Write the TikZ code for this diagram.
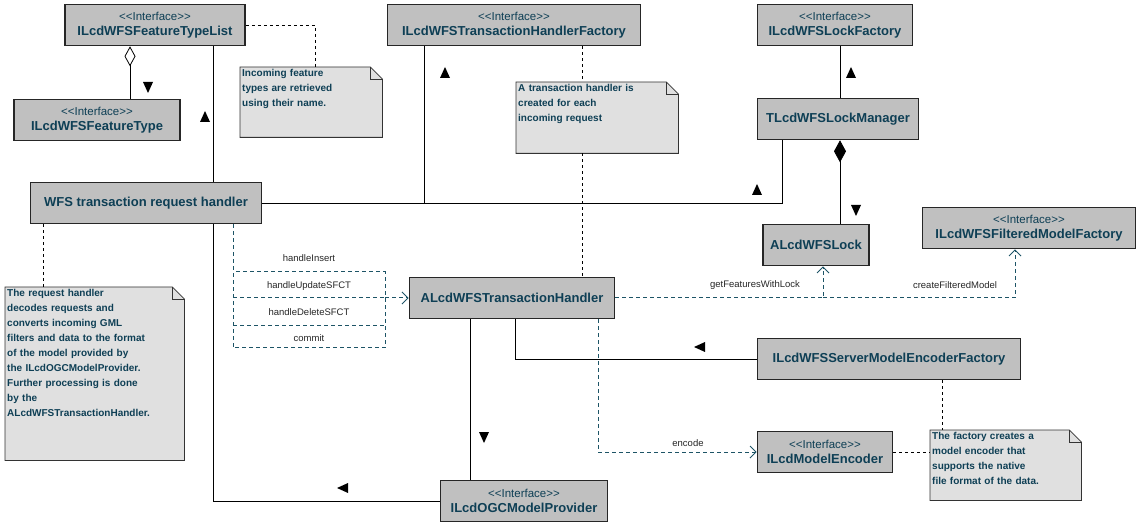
\documentclass[tikz,border=0pt]{standalone}
\usepackage{fontspec}
\setmainfont{Liberation Sans}
\usetikzlibrary{arrows.meta,positioning,calc}
\definecolor{umltext}{HTML}{0E3F55}
\definecolor{umlbox}{HTML}{C0C0C0}
\definecolor{umlnote}{HTML}{E0E0E0}
\definecolor{umldash}{HTML}{1D5466}
\newcommand{\stereo}{{\fontsize{11.5}{13}\selectfont\mdseries <{}<Interface>{}>}\\}
\newcommand{\notefold}[1]{%
  \fill[umlnote] ($(#1.north west)$) -- ($(#1.north east)+(-12,0)$) -- ($(#1.north east)+(0,12)$) -- (#1.south east) -- (#1.south west) -- cycle;
  \draw[thick,black!80] ($(#1.north west)$) -- ($(#1.north east)+(-12,0)$) -- ($(#1.north east)+(0,12)$) -- (#1.south east) -- (#1.south west) -- cycle;
  \draw[black!80] ($(#1.north east)+(-12,0)$) |- ($(#1.north east)+(0,12)$);}
\newcommand{\dirmark}[2]{% position, rotation
  \fill[black,rotate around={#2:(#1)}] ($(#1)+(-5,5)$) -- ($(#1)+(5,5)$) -- ($(#1)+(0,-6)$) -- cycle;}

\begin{document}
\begin{tikzpicture}[
    x=1pt,y=-1pt,
    cls/.style={draw=black!85,line width=1.6pt,fill=umlbox,text=umltext,font=\fontsize{13}{15}\selectfont\bfseries,
      align=center,inner sep=0pt,minimum height=#1},
    cls/.default=41,
    notebg/.style={anchor=north west,inner sep=0pt},
    note/.style={anchor=north west,text=umltext,font=\fontsize{10}{15}\selectfont\bfseries,align=left,
      inner sep=2pt,text width=#1},
    assoc/.style={draw=black,line width=0.8pt},
    notelink/.style={draw=black,dashed,dash pattern=on 3pt off 3pt},
    call/.style={draw=umldash,line width=1pt,dash pattern=on 4pt off 3pt},
    callarr/.style={call,-{Straight Barb[length=6pt,width=12pt,line width=1pt]}},
    lbl/.style={font=\fontsize{9.5}{11}\selectfont,text=black!85,inner sep=0pt}
  ]
  \useasboundingbox (0,0) rectangle (1141,529);

  % classes
  \node[cls,minimum width=180] (FTL) at (155,25) {\stereo ILcdWFSFeatureTypeList};
  \node[cls,minimum width=166] (FT) at (97,120) {\stereo ILcdWFSFeatureType};
  \node[cls,minimum width=231] (REQ) at (146,203) {WFS transaction request handler};
  \node[cls,minimum width=253] (THF) at (514,25) {\stereo ILcdWFSTransactionHandlerFactory};
  \node[cls,minimum width=155] (LF) at (835,25) {\stereo ILcdWFSLockFactory};
  \node[cls,minimum width=161] (LM) at (838,119) {TLcdWFSLockManager};
  \node[cls,minimum width=106] (LOCK) at (816,245) {ALcdWFSLock};
  \node[cls,minimum width=213] (FMF) at (1029,228) {\stereo ILcdWFSFilteredModelFactory};
  \node[cls,minimum width=205] (TH) at (512,298) {ALcdWFSTransactionHandler};
  \node[cls,minimum width=263] (SMEF) at (889,359) {ILcdWFSServerModelEncoderFactory};
  \node[cls,minimum width=135] (ME) at (825,452) {\stereo ILcdModelEncoder};
  \node[cls,minimum width=167] (OGC) at (524,501) {\stereo ILcdOGCModelProvider};

  % notes
  \node[notebg,minimum width=142,minimum height=70] (N1) at (240,67) {};
  \node[notebg,minimum width=162,minimum height=71] (N2) at (516,82) {};
  \node[notebg,minimum width=179,minimum height=173] (N3) at (5,287) {};
  \node[notebg,minimum width=151,minimum height=70] (N4) at (930,430) {};
  \foreach \n in {N1,N2,N3,N4} {\notefold{\n}}
  \node[note=138] (N1t) at (N1.north west) {Incoming feature\\types are retrieved\\using their name.};
  \node[note=158] (N2t) at (N2.north west) {A transaction handler is\\created for each\\incoming request};
  \node[note=175] (N3t) at (N3.north west) {The request handler\\decodes requests and\\converts incoming GML\\filters and data to the format\\of the model provided by\\the ILcdOGCModelProvider.\\Further processing is done\\by the\\ALcdWFSTransactionHandler.};
  \node[note=147] (N4t) at (N4.north west) {The factory creates a\\model encoder that\\supports the native\\file format of the data.};

  % associations
  \draw[assoc,{Diamond[open,length=20pt,width=11pt,line width=0.8pt]}-] (FTL.south -| 130,0) -- (FT.north -| 130,0);
  \draw[assoc] (FTL.south -| 213,0) -- (REQ.north -| 213,0);
  \draw[assoc] (REQ.east) -| (LM.south -| 782,0);
  \draw[assoc] (THF.south -| 424,0) -- (424,203);
  \draw[assoc] (LF.south -| 840,0) -- (LM.north -| 840,0);
  \draw[assoc,{Diamond[length=22pt,width=12pt]}-] (LM.south -| 840,0) -- (LOCK.north -| 840,0);
  \draw[assoc] (TH.south -| 515,0) |- (SMEF.west);
  \draw[assoc] (TH.south -| 470,0) -- (OGC.north -| 470,0);
  \draw[assoc] (REQ.south -| 213,0) |- (OGC.west);

  % direction markers
  \dirmark{148,87}{180}
  \dirmark{205,117}{0}
  \dirmark{445,73}{0}
  \dirmark{851,73}{0}
  \dirmark{757,190}{0}
  \dirmark{856,210}{180}
  \dirmark{700,347}{90}
  \dirmark{484,437}{180}
  \dirmark{343,488}{90}

  % note links
  \draw[notelink] (FTL.east) -| (N1.north -| 315,0);
  \draw[notelink] (THF.south -| 582,0) -- (N2.north -| 582,0);
  \draw[notelink] (N2.south -| 582,0) -- (TH.north -| 582,0);
  \draw[notelink] (REQ.south -| 43,0) -- (N3.north -| 43,0);
  \draw[notelink] (SMEF.south -| 942,0) -- (N4.north -| 942,0);
  \draw[notelink] (ME.east) -- (ME.east -| N4.west);

  % calls
  \coordinate (cL) at (233,298);
  \coordinate (cR) at (385,298);
  \draw[call] (REQ.south -| 233,0) -- (233,348) -- (385,348) -- (385,272) -- (233,272);
  \draw[call] (233,326) -- (385,326);
  \draw[call] (cL) -- (cR);
  \draw[callarr] (cR) -- (TH.west);
  \node[lbl] (mIns) at (309,258) {handleInsert};
  \node[lbl] (mUpd) at (309,286) {handleUpdateSFCT};
  \node[lbl] (mDel) at (309,312) {handleDeleteSFCT};
  \node[lbl] (mCom) at (309,338) {commit};

  \coordinate (jLock) at (823,298);
  \draw[callarr] (TH.east) -| (LOCK.south -| jLock);
  \draw[callarr] (jLock) -| (FMF.south -| 1015,0);
  \node[lbl] (gfl) at (755,285) {getFeaturesWithLock};
  \node[lbl] (cfm) at (955,285) {createFilteredModel};
  \draw[callarr] (TH.south -| 598,0) |- (ME.west);
  \node[lbl] (enc) at (688,443) {encode};
\end{tikzpicture}
\end{document}
